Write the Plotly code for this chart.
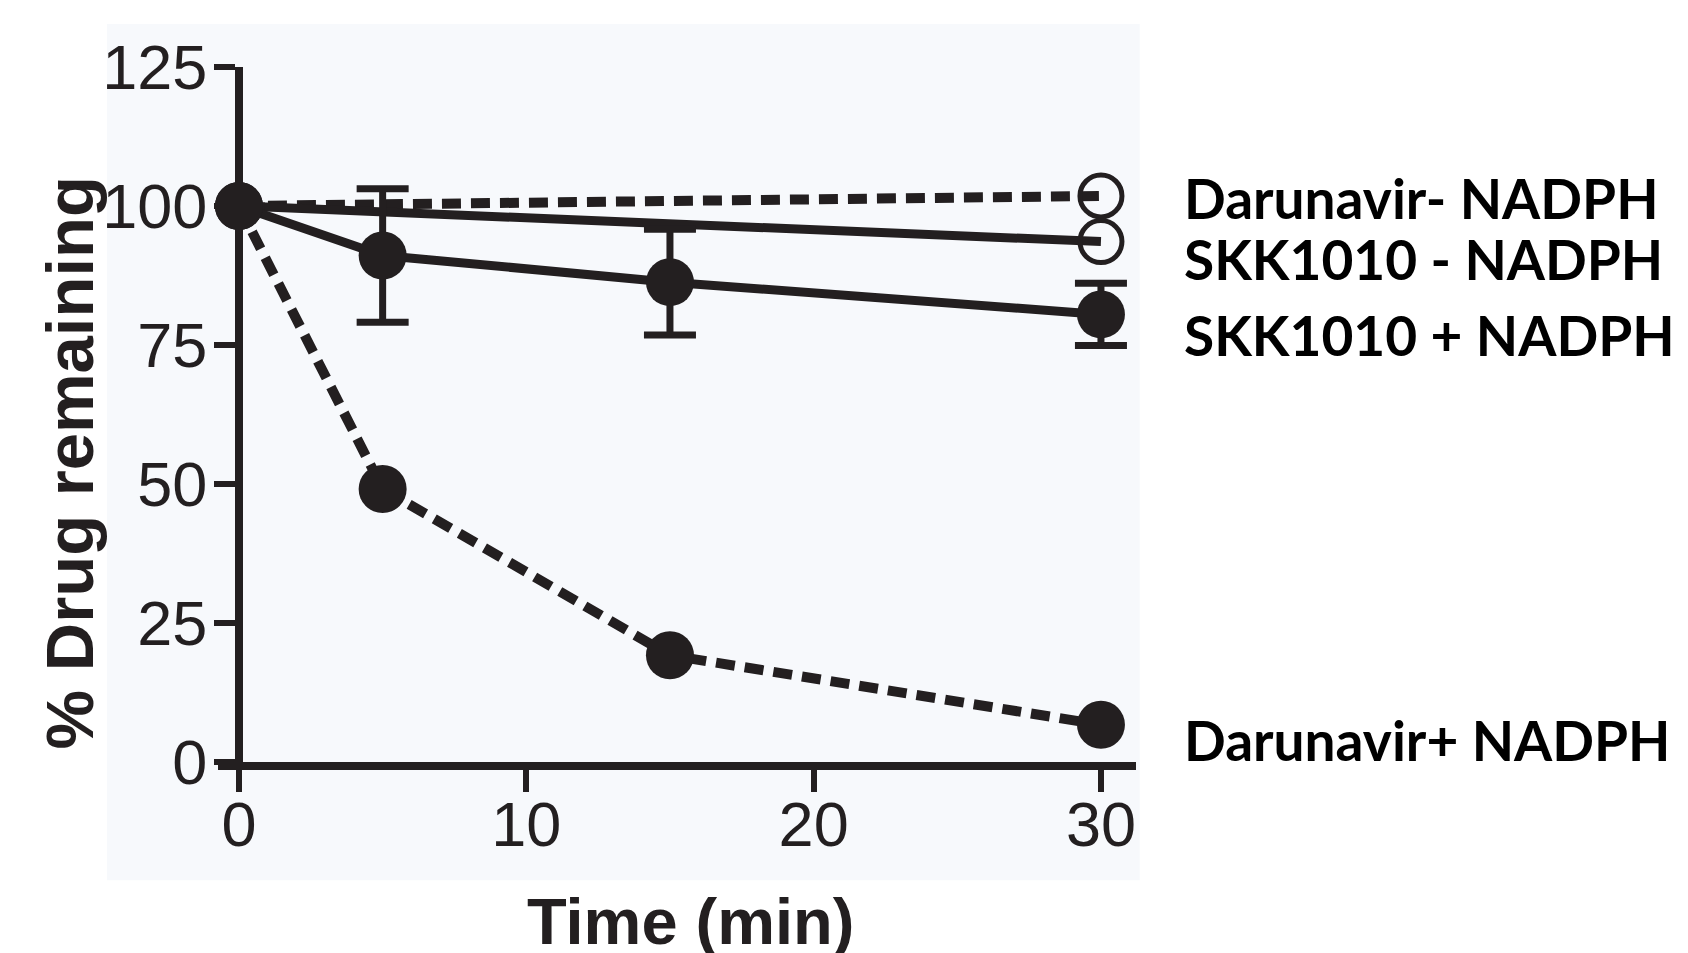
import plotly.graph_objects as go

# ---- data ----
time_full = [0, 5, 15, 30]
time_ends = [0, 30]

darunavir_plus = [100, 49.1, 19.2, 6.7]
skk_plus = [100, 91.1, 86.3, 80.5]
skk_plus_err = [0, 12.0, 9.5, 5.6]
skk_minus = [100, 93.6]
darunavir_minus = [100, 101.8]

series_labels = ["Darunavir- NADPH", "SKK1010 - NADPH", "SKK1010 + NADPH", "Darunavir+ NADPH"]
label_y = [101.4, 90.4, 76.8, 3.9]

x_ticks = [0, 10, 20, 30]
y_ticks = [0, 25, 50, 75, 100, 125]

INK = "#231f20"
X_RANGE = [-0.73, 31.22]
Y_RANGE = [0, 125]
PAGE_OFFSET = 8  # default body margin of the html page

fig = go.Figure()

fig.add_trace(go.Scatter(
    x=time_ends, y=darunavir_minus, mode="lines+markers", name=series_labels[0],
    line=dict(color=INK, width=10, dash="19px,10px"),
    marker=dict(symbol="circle-open", size=42, color=INK, line=dict(width=5, color=INK)),
    cliponaxis=False,
))
fig.add_trace(go.Scatter(
    x=time_ends, y=skk_minus, mode="lines+markers", name=series_labels[1],
    line=dict(color=INK, width=9),
    marker=dict(symbol="circle-open", size=42, color=INK, line=dict(width=5, color=INK)),
    cliponaxis=False,
))
fig.add_trace(go.Scatter(
    x=time_full, y=skk_plus, mode="lines+markers", name=series_labels[2],
    line=dict(color=INK, width=9),
    marker=dict(symbol="circle", size=48, color=INK),
    error_y=dict(type="data", array=skk_plus_err, visible=True, color=INK, thickness=7, width=26),
    cliponaxis=False,
))
fig.add_trace(go.Scatter(
    x=time_full, y=darunavir_plus, mode="lines+markers", name=series_labels[3],
    line=dict(color=INK, width=10, dash="19px,10px"),
    marker=dict(symbol="circle", size=48, color=INK),
    cliponaxis=False,
))

annotations = []
for txt, yy in zip(series_labels, label_y):
    annotations.append(dict(
        x=1.050, y=yy, xref="paper", yref="y", text=txt, showarrow=False,
        xanchor="left", yanchor="middle",
        font=dict(family="Lato, Open Sans, sans-serif", size=55, color="#000000", weight="bold"),
    ))
annotations.append(dict(
    x=0.515, y=-0.2295, xref="paper", yref="paper", text="<b>Time (min)</b>", showarrow=False,
    xanchor="center", yanchor="middle",
    font=dict(family="Liberation Sans, Arial, sans-serif", size=65, color=INK),
))
annotations.append(dict(
    x=-0.162, y=0.43, xref="paper", yref="paper", text="<b>% Drug remaining</b>", showarrow=False,
    xanchor="center", yanchor="middle", textangle=-90,
    font=dict(family="Liberation Sans, Arial, sans-serif", size=67, color=INK),
))

yaxis_pos = (0 - X_RANGE[0]) / (X_RANGE[1] - X_RANGE[0])

fig.update_layout(
    width=1688, height=953,
    margin=dict(l=218 - PAGE_OFFSET, r=552 + PAGE_OFFSET, t=67 - PAGE_OFFSET, b=191 + PAGE_OFFSET),
    paper_bgcolor="#ffffff",
    plot_bgcolor="rgba(0,0,0,0)",
    showlegend=False,
    annotations=annotations,
    shapes=[dict(type="rect", xref="paper", yref="paper", x0=-0.121, x1=1.004, y0=-0.17, y1=1.062,
                 fillcolor="#F7F9FC", line=dict(width=0), layer="below")],
    xaxis=dict(
        range=X_RANGE, tickvals=x_ticks, showgrid=False, zeroline=False,
        showline=True, linecolor=INK, linewidth=8,
        ticks="outside", ticklen=22, tickwidth=6, tickcolor=INK,
        ticklabelstandoff=-22,
        tickfont=dict(family="Liberation Sans, Arial, sans-serif", size=63, color=INK),
    ),
    yaxis=dict(
        range=Y_RANGE, tickvals=y_ticks, showgrid=False, zeroline=False,
        anchor="free", position=yaxis_pos,
        showline=True, linecolor=INK, linewidth=8,
        ticks="outside", ticklen=21, tickwidth=6, tickcolor=INK,
        ticklabelstandoff=-6,
        tickfont=dict(family="Liberation Sans, Arial, sans-serif", size=63, color=INK),
    ),
)

fig.write_html("out.html")
